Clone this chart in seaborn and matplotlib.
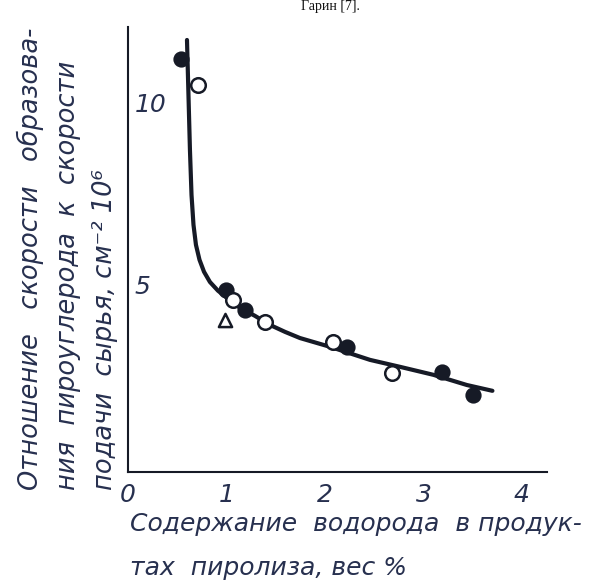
import matplotlib
matplotlib.use("Agg")
import matplotlib.pyplot as plt
import seaborn as sns
import pandas as pd

# Smoothed trend line (hydrogen content, wt %  ->  rate ratio x 10^6)
curve_x = [0.599, 0.614, 0.629, 0.645, 0.665, 0.690, 0.726, 0.772, 0.832, 0.914,
           1.015, 1.137, 1.289, 1.442, 1.594, 1.746, 2.05, 2.457, 2.76, 3.10,
           3.44, 3.70]
curve_y = [11.73, 10.22, 8.71, 7.47, 6.65, 6.10, 5.69, 5.36, 5.08, 4.84,
           4.62, 4.37, 4.15, 3.90, 3.71, 3.54, 3.30, 2.94, 2.75, 2.53,
           2.25, 2.09]

# Experimental points
filled_x = [0.54, 1.00, 1.19, 2.22, 3.19, 3.50]
filled_y = [11.2, 4.86, 4.31, 3.30, 2.60, 1.98]
open_x = [0.71, 1.07, 1.39, 2.08, 2.68]
open_y = [10.5, 4.59, 3.98, 3.43, 2.58]
tri_x = [0.98]
tri_y = [4.04]

x_ticks = [0, 1, 2, 3, 4]
y_ticks = [5, 10]

INK = "#161a26"
TEXT = "#27304f"

sns.set_theme(style="white")
plt.rcParams["font.family"] = ["DejaVu Sans"]
plt.rcParams["font.style"] = "oblique"

fig = plt.figure(figsize=(5.92, 5.85), dpi=100)
ax = fig.add_axes([0.2162, 0.1932, 0.7071, 0.7615])

curve = pd.DataFrame({"x": curve_x, "y": curve_y})
sns.lineplot(data=curve, x="x", y="y", sort=False, color=INK, lw=3.0, ax=ax,
             zorder=2)

sns.scatterplot(x=filled_x, y=filled_y, ax=ax, s=110, color=INK,
                edgecolor=INK, linewidth=1.2, zorder=3)
sns.scatterplot(x=open_x, y=open_y, ax=ax, s=110, facecolor="white",
                edgecolor=INK, linewidth=1.8, zorder=3)
sns.scatterplot(x=tri_x, y=tri_y, ax=ax, s=90, marker="^", facecolor="white",
                edgecolor=INK, linewidth=1.8, zorder=3)

ax.set_xlim(0, 4.25)
ax.set_ylim(-0.14, 12.1)
ax.set_xticks(x_ticks)
ax.set_yticks(y_ticks)
ax.set_xticklabels([str(v) for v in x_ticks])
ax.set_yticklabels([str(v) for v in y_ticks])
ax.set_xlabel("")
ax.set_ylabel("")

for side in ("top", "right"):
    ax.spines[side].set_visible(False)
for side in ("left", "bottom"):
    ax.spines[side].set_color(INK)
    ax.spines[side].set_linewidth(1.5)

ax.tick_params(axis="both", direction="inout", length=8, width=1.5,
               color=INK, labelcolor=TEXT, labelsize=18)
ax.tick_params(axis="x", pad=4)
ax.tick_params(axis="y", pad=-9)
for lbl in ax.get_yticklabels():
    lbl.set_horizontalalignment("left")

# Axis captions
ylab = ["Отношение   скорости   образова-",
        "ния  пироуглерода  к  скорости",
        "подачи  сырья, см⁻² 10⁶"]
for xpos, line in zip([30, 68, 105], ylab):
    fig.text(xpos / 592, 1 - 490 / 585, line, rotation=90, ha="center",
             va="bottom", fontsize=18.5, color=TEXT, style="oblique")

fig.text(130 / 592, 1 - 524 / 585, "Содержание  водорода  в продук-",
         ha="left", va="center", fontsize=18, color=TEXT, style="oblique")
fig.text(130 / 592, 1 - 568 / 585, "тах  пиролиза, вес %",
         ha="left", va="center", fontsize=18, color=TEXT, style="oblique")

# Preceding caption line at the page top
fig.text(330 / 592, 1.0, "Гарин [7].", ha="center", va="top",
         fontsize=10, color="#111111", family=["Liberation Serif"],
         style="normal")

fig.savefig("out.png", dpi=100, facecolor="white")
